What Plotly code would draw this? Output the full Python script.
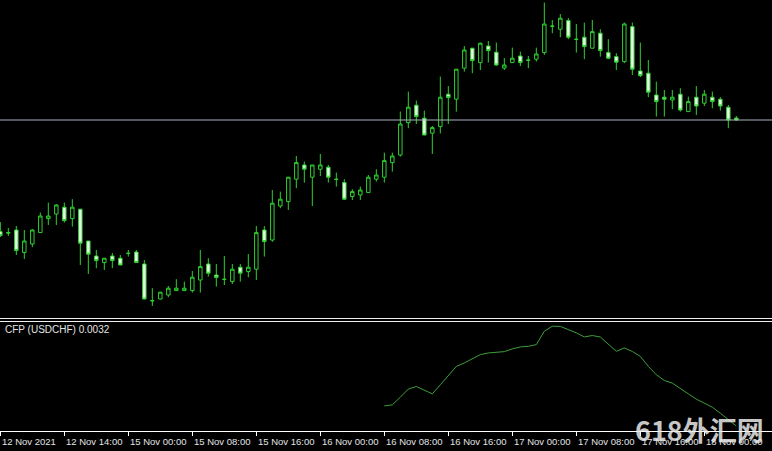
import plotly.graph_objects as go

# ---- data (USDCHF H1) ----
opens = [0.92242, 0.92237, 0.92250, 0.92137, 0.92180, 0.92237, 0.92307, 0.92330, 0.92364, 0.92307,
         0.92354, 0.92195, 0.92120, 0.92087, 0.92120, 0.92109, 0.92134, 0.92140, 0.92080, 0.91897,
         0.91905, 0.91925, 0.91947, 0.91947, 0.91947, 0.92000, 0.92080, 0.92025, 0.92004, 0.91992,
         0.92064, 0.92042, 0.92054, 0.92250, 0.92200, 0.92370, 0.92392, 0.92504, 0.92575, 0.92514,
         0.92554, 0.92564, 0.92504, 0.92487, 0.92417, 0.92425, 0.92437, 0.92504, 0.92514, 0.92587,
         0.92625, 0.92787, 0.92874, 0.92809, 0.92734, 0.92767, 0.92929, 0.92904, 0.93059, 0.93159,
         0.93087, 0.93170, 0.93139, 0.93060, 0.93087, 0.93120, 0.93100, 0.93104, 0.93137, 0.93270,
         0.93254, 0.93297, 0.93204, 0.93214, 0.93159, 0.93234, 0.93137, 0.93117, 0.93092, 0.93267,
         0.93045, 0.93034, 0.92925, 0.92914, 0.92900, 0.92929, 0.92842, 0.92914, 0.92884, 0.92914,
         0.92904, 0.92864, 0.92810]
highs = [0.92290, 0.92260, 0.92270, 0.92250, 0.92255, 0.92337, 0.92387, 0.92380, 0.92387, 0.92404,
         0.92356, 0.92195, 0.92150, 0.92110, 0.92135, 0.92125, 0.92150, 0.92150, 0.92100, 0.91959,
         0.91941, 0.91970, 0.92004, 0.91992, 0.92045, 0.92150, 0.92109, 0.92080, 0.92120, 0.92080,
         0.92080, 0.92130, 0.92270, 0.92270, 0.92450, 0.92442, 0.92515, 0.92620, 0.92592, 0.92576,
         0.92630, 0.92575, 0.92537, 0.92504, 0.92454, 0.92467, 0.92525, 0.92554, 0.92637, 0.92637,
         0.92842, 0.92942, 0.92897, 0.92847, 0.92770, 0.93017, 0.92970, 0.93055, 0.93170, 0.93160,
         0.93187, 0.93195, 0.93187, 0.93109, 0.93162, 0.93142, 0.93120, 0.93162, 0.93387, 0.93300,
         0.93330, 0.93310, 0.93280, 0.93287, 0.93300, 0.93254, 0.93204, 0.93134, 0.93287, 0.93287,
         0.93187, 0.93100, 0.92992, 0.92950, 0.92950, 0.92959, 0.92917, 0.92970, 0.92950, 0.92942,
         0.92914, 0.92875, 0.92820]
lows = [0.92215, 0.92220, 0.92125, 0.92105, 0.92164, 0.92235, 0.92275, 0.92275, 0.92287, 0.92267,
        0.92075, 0.92030, 0.92059, 0.92050, 0.92060, 0.92074, 0.92117, 0.92086, 0.91904, 0.91870,
        0.91903, 0.91914, 0.91945, 0.91945, 0.91937, 0.91937, 0.92017, 0.91967, 0.91975, 0.91980,
        0.91992, 0.92014, 0.92000, 0.92117, 0.92191, 0.92359, 0.92350, 0.92459, 0.92487, 0.92370,
        0.92520, 0.92487, 0.92467, 0.92400, 0.92400, 0.92400, 0.92436, 0.92492, 0.92487, 0.92542,
        0.92617, 0.92759, 0.92780, 0.92724, 0.92630, 0.92733, 0.92780, 0.92842, 0.93042, 0.93034,
        0.93050, 0.93087, 0.93072, 0.93050, 0.93086, 0.93070, 0.93059, 0.93092, 0.93125, 0.93234,
        0.93214, 0.93204, 0.93137, 0.93104, 0.93158, 0.93117, 0.93104, 0.93050, 0.93084, 0.93025,
        0.93014, 0.92914, 0.92817, 0.92817, 0.92854, 0.92842, 0.92841, 0.92825, 0.92870, 0.92859,
        0.92847, 0.92759, 0.92797]
closes = [0.92222, 0.92235, 0.92147, 0.92195, 0.92250, 0.92320, 0.92320, 0.92375, 0.92297, 0.92364,
          0.92184, 0.92129, 0.92097, 0.92109, 0.92097, 0.92075, 0.92133, 0.92087, 0.91905, 0.91896,
          0.91939, 0.91959, 0.91959, 0.91959, 0.92014, 0.92067, 0.92034, 0.92012, 0.92003, 0.92054,
          0.92034, 0.92064, 0.92237, 0.92192, 0.92384, 0.92404, 0.92514, 0.92587, 0.92554, 0.92575,
          0.92575, 0.92514, 0.92503, 0.92404, 0.92442, 0.92450, 0.92514, 0.92525, 0.92597, 0.92620,
          0.92780, 0.92864, 0.92817, 0.92725, 0.92762, 0.92914, 0.92912, 0.93054, 0.93150, 0.93097,
          0.93184, 0.93147, 0.93075, 0.93075, 0.93109, 0.93087, 0.93099, 0.93130, 0.93280, 0.93269,
          0.93309, 0.93214, 0.93203, 0.93167, 0.93242, 0.93147, 0.93109, 0.93089, 0.93280, 0.93054,
          0.93022, 0.92939, 0.92892, 0.92904, 0.92914, 0.92850, 0.92892, 0.92870, 0.92929, 0.92892,
          0.92870, 0.92800, 0.92800]

cfp_start = 48
cfp_values = [0.00660, 0.00677, 0.00808, 0.00944, 0.00988, 0.00932, 0.00864, 0.01017, 0.01170, 0.01328,
              0.01386, 0.01454, 0.01527, 0.01556, 0.01573, 0.01578, 0.01624, 0.01658, 0.01668, 0.01697,
              0.01923, 0.02008, 0.02005, 0.01952, 0.01896, 0.01828, 0.01850, 0.01826, 0.01697, 0.01583,
              0.01641, 0.01581, 0.01498, 0.01328, 0.01187, 0.01090, 0.01046, 0.00961, 0.00864, 0.00774,
              0.00706, 0.00638, 0.00536, 0.00434, 0.00320]

tick_bars = [0, 8, 16, 24, 32, 40, 48, 56, 64, 72, 80, 88]
tick_labels = ["12 Nov 2021", "12 Nov 14:00", "15 Nov 00:00", "15 Nov 08:00", "15 Nov 16:00",
               "16 Nov 00:00", "16 Nov 08:00", "16 Nov 16:00", "17 Nov 00:00", "17 Nov 08:00",
               "17 Nov 16:00", "18 Nov 00:00"]
bid_price = 0.92800
indicator_label = "CFP (USDCHF) 0.0032"
watermark = "618外汇网"

# ---- styling ----
W, H = 772, 451
PLOT_H = 431
GREEN = "#2fd02f"
BEAR_FILL = "#eefcee"
TXT = "#e4e4e4"

bars = list(range(len(opens)))
cfp_x = list(range(cfp_start, cfp_start + len(cfp_values)))

fig = go.Figure()
fig.add_trace(go.Candlestick(
    x=bars, open=opens, high=highs, low=lows, close=closes,
    increasing=dict(line=dict(color=GREEN, width=1), fillcolor="#000000"),
    decreasing=dict(line=dict(color=GREEN, width=1), fillcolor=BEAR_FILL),
    whiskerwidth=0, hoverinfo="skip", xaxis="x", yaxis="y", showlegend=False))
fig.add_trace(go.Scatter(
    x=cfp_x, y=cfp_values, mode="lines", line=dict(color="#3c9e3c", width=1),
    hoverinfo="skip", xaxis="x2", yaxis="y2", showlegend=False))

xr = [-0.04, 96.46]
main_top = 1.0
main_bot = 1 - 318.0 / PLOT_H
ind_top = 1 - 321.5 / PLOT_H

fig.update_layout(
    width=W, height=H, paper_bgcolor="#000000", plot_bgcolor="#000000",
    margin=dict(l=0, r=0, t=0, b=H - PLOT_H),
    boxgap=0.38,
    xaxis=dict(domain=[0, 1], anchor="y", range=xr, showgrid=False, zeroline=False,
               showticklabels=False, rangeslider=dict(visible=False), fixedrange=True),
    yaxis=dict(domain=[main_bot, main_top], range=[0.91810, 0.93400], showgrid=False,
               zeroline=False, showticklabels=False, fixedrange=True),
    xaxis2=dict(domain=[0, 1], anchor="y2", range=xr, showgrid=False, zeroline=False,
                showticklabels=False, showline=True, linecolor="#ffffff", linewidth=1,
                ticks="outside", ticklen=4, tickcolor="#ffffff", tickwidth=1,
                tickmode="array", tickvals=tick_bars, fixedrange=True),
    yaxis2=dict(domain=[0, ind_top], range=[0.00235, 0.02088], showgrid=False,
                zeroline=False, showticklabels=False, fixedrange=True),
    showlegend=False,
)

shapes = [
    dict(type="line", xref="paper", yref="y", x0=0, x1=1, y0=bid_price, y1=bid_price,
         line=dict(color="#aab2c0", width=1)),
    dict(type="line", xref="paper", yref="paper", x0=0, x1=1,
         y0=1 - 318.5 / PLOT_H, y1=1 - 318.5 / PLOT_H, line=dict(color="#f0f0f0", width=1)),
    dict(type="line", xref="paper", yref="paper", x0=0, x1=1,
         y0=1 - 321.5 / PLOT_H, y1=1 - 321.5 / PLOT_H, line=dict(color="#f0f0f0", width=1)),
]
fig.update_layout(shapes=shapes)

annotations = [dict(text=indicator_label, xref="paper", yref="paper", x=0.004,
                    y=1 - 329.5 / PLOT_H, xanchor="left", yanchor="middle", showarrow=False,
                    font=dict(family="Liberation Sans", size=10, color=TXT))]
for b, lab in zip(tick_bars, tick_labels):
    annotations.append(dict(text=lab, xref="x2", yref="paper", x=b, y=-10.5 / PLOT_H,
                            xanchor="left", yanchor="middle", xshift=0, showarrow=False,
                            font=dict(family="Liberation Sans", size=9.5, color=TXT)))
annotations.append(dict(text="<b>" + watermark + "</b>", xref="paper", yref="paper",
                        x=0.992, y=-20 / PLOT_H, xanchor="right", yanchor="bottom",
                        showarrow=False,
                        font=dict(family="Noto Sans CJK SC", size=27,
                                  color="rgba(235,235,235,0.85)")))
fig.update_layout(annotations=annotations)

fig.write_html("out.html", config={"displayModeBar": False},
               post_script="document.body.style.margin='0';document.body.style.padding='0';"
                           "document.body.style.overflow='hidden';")
